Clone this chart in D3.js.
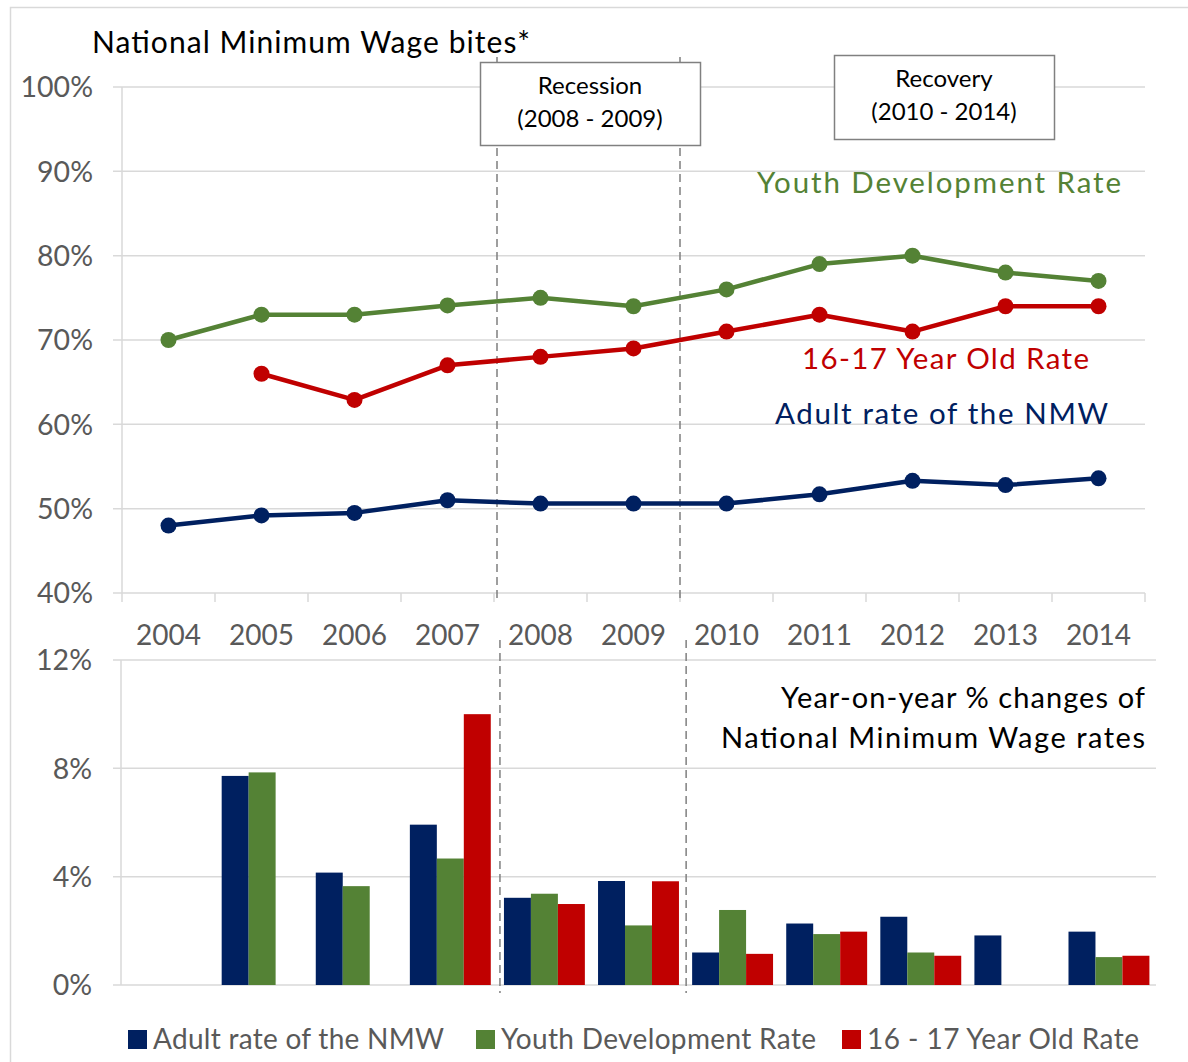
<!DOCTYPE html>
<html>
<head>
<meta charset="utf-8">
<script src="https://cdn.jsdelivr.net/npm/d3@7"></script>
<style>
  html, body { margin: 0; padding: 0; background: #fff; }
  svg { display: block; font-family: Lato, "Open Sans", sans-serif; }
</style>
</head>
<body>
<svg id="chart" width="1188" height="1062"></svg>
<script>
// ---------- DATA ----------
const years = ["2004","2005","2006","2007","2008","2009","2010","2011","2012","2013","2014"];
// NMW bites (%)
const biteAdult = [48.0, 49.2, 49.5, 51.0, 50.6, 50.6, 50.6, 51.7, 53.3, 52.8, 53.6];
const biteYouth = [70.0, 73.0, 73.0, 74.1, 75.0, 74.0, 76.0, 79.0, 80.0, 78.0, 77.0];
const bite1617  = [null, 66.0, 62.9, 67.0, 68.0, 69.0, 71.0, 73.0, 71.0, 74.0, 74.0];
// Year-on-year % changes
const chgAdult = [null, 7.72, 4.15, 5.92, 3.22, 3.84, 1.20, 2.27, 2.52, 1.83, 1.97];
const chgYouth = [null, 7.85, 3.65, 4.67, 3.37, 2.20, 2.77, 1.88, 1.20, null, 1.03];
const chg1617  = [null, null, null, 10.0, 2.99, 3.83, 1.15, 1.97, 1.08, null, 1.08];
const topTicks = [40, 50, 60, 70, 80, 90, 100];
const bottomTicks = [0, 4, 8, 12];
const seriesNames = ["Adult rate of the NMW", "Youth Development Rate", "16 - 17  Year Old Rate"];
const periods = [
  {label1: "Recession", label2: "(2008 - 2009)", from: "2008", to: "2010"},
  {label1: "Recovery", label2: "(2010 - 2014)", from: "2010", to: "2014"}
];

// ---------- STYLE ----------
const C = { adult: "#002060", youth: "#548235", young: "#C00000",
            grid: "#D9D9D9", axisText: "#595959", dash: "#7F7F7F" };

const svg = d3.select("#chart");

// outer chart border
svg.append("rect").attr("x", 10.5).attr("y", 7.5).attr("width", 1200).attr("height", 1100)
  .attr("fill", "none").attr("stroke", "#D9D9D9").attr("stroke-width", 1.5);

// ---------- TOP CHART ----------
const xT = d3.scaleBand().domain(years).range([122, 1145]);
const yT = d3.scaleLinear().domain([40, 100]).range([593, 87]);

const gT = svg.append("g");
gT.selectAll("line.grid").data(topTicks).join("line")
  .attr("x1", 113).attr("x2", 1145)
  .attr("y1", d => yT(d)).attr("y2", d => yT(d))
  .attr("stroke", C.grid).attr("stroke-width", 1.5);
gT.append("line").attr("x1", 122).attr("x2", 122).attr("y1", yT(100)).attr("y2", yT(40))
  .attr("stroke", C.grid).attr("stroke-width", 1.5);
gT.selectAll("text.ylab").data(topTicks).join("text")
  .attr("x", 93).attr("y", d => yT(d)).attr("dy", "0.36em")
  .attr("text-anchor", "end").attr("fill", C.axisText).attr("font-size", 28.5)
  .text(d => d + "%");
const bounds = years.map(y => xT(y)).concat([xT(years[years.length-1]) + xT.bandwidth()]);
gT.selectAll("line.xt").data(bounds).join("line")
  .attr("x1", d => d).attr("x2", d => d).attr("y1", yT(40)).attr("y2", yT(40) + 9)
  .attr("stroke", C.grid).attr("stroke-width", 1.5);
gT.selectAll("text.xlab").data(years).join("text")
  .attr("x", d => xT(d) + xT.bandwidth()/2).attr("y", 645)
  .attr("text-anchor", "middle").attr("fill", C.axisText).attr("font-size", 28)
  .text(d => d);

// dashed period lines (top)
const dashTop = [xT("2008") + 3, xT("2010")];
gT.selectAll("line.dash").data(dashTop).join("line")
  .attr("x1", d => d).attr("x2", d => d).attr("y1", 57).attr("y2", 600)
  .attr("stroke", C.dash).attr("stroke-width", 1.5).attr("stroke-dasharray", "8,5");

// lines
const lineGen = d3.line().defined(d => d.v != null)
  .x(d => xT(d.y) + xT.bandwidth()/2).y(d => yT(d.v));
const topSeries = [
  {vals: biteYouth, color: C.youth},
  {vals: bite1617, color: C.young},
  {vals: biteAdult, color: C.adult}
];
topSeries.forEach(s => {
  const pts = years.map((y, i) => ({y, v: s.vals[i]}));
  gT.append("path").datum(pts).attr("d", lineGen)
    .attr("fill", "none").attr("stroke", s.color).attr("stroke-width", 4.5)
    .attr("stroke-linejoin", "round");
  gT.selectAll(null).data(pts.filter(d => d.v != null)).join("circle")
    .attr("cx", d => xT(d.y) + xT.bandwidth()/2).attr("cy", d => yT(d.v))
    .attr("r", 8).attr("fill", s.color);
});

// period boxes
const boxes = [
  {p: periods[0], x: 480, y: 62, w: 220, h: 83},
  {p: periods[1], x: 834, y: 55, w: 220, h: 84}
];
boxes.forEach(b => {
  gT.append("rect").attr("x", b.x + 0.5).attr("y", b.y + 0.5).attr("width", b.w).attr("height", b.h)
    .attr("fill", "#fff").attr("stroke", "#808080").attr("stroke-width", 1.5);
  gT.append("text").attr("x", b.x + b.w/2).attr("y", b.y + 32).attr("text-anchor", "middle")
    .attr("font-size", 24).attr("fill", "#000").text(b.p.label1);
  gT.append("text").attr("x", b.x + b.w/2).attr("y", b.y + 65).attr("text-anchor", "middle")
    .attr("font-size", 24).attr("fill", "#000").text(b.p.label2);
});

function label(x, y, anchor, size, fill, len, txt) {
  return svg.append("text").attr("x", x).attr("y", y).attr("text-anchor", anchor)
    .attr("font-size", size).attr("fill", fill)
    .attr("textLength", len).attr("lengthAdjust", "spacing").text(txt);
}

// title
label(92, 53, "start", 30, "#000", 438, "National Minimum Wage bites*");

// series labels
label(1121, 193, "end", 29.5, C.youth, 364, "Youth Development  Rate");
label(1089, 369, "end", 29.5, C.young, 287, "16-17 Year Old Rate");
label(1108, 424, "end", 29.5, C.adult, 333, "Adult rate of the NMW");

// ---------- BOTTOM CHART ----------
const xB = d3.scaleBand().domain(years).range([121, 1156]).paddingInner(0.14).paddingOuter(0.07);
const xSub = d3.scaleBand().domain(["a","y","r"]).range([0, xB.bandwidth()]);
const yB = d3.scaleLinear().domain([0, 12]).range([985, 660]);

const gB = svg.append("g");
gB.selectAll("line.grid").data(bottomTicks).join("line")
  .attr("x1", 113).attr("x2", 1156)
  .attr("y1", d => yB(d)).attr("y2", d => yB(d))
  .attr("stroke", C.grid).attr("stroke-width", 1.5);
gB.append("line").attr("x1", 121).attr("x2", 121).attr("y1", yB(12)).attr("y2", yB(0))
  .attr("stroke", C.grid).attr("stroke-width", 1.5);
gB.selectAll("text.ylab").data(bottomTicks).join("text")
  .attr("x", 92).attr("y", d => yB(d)).attr("dy", "0.36em")
  .attr("text-anchor", "end").attr("fill", C.axisText).attr("font-size", 28.5)
  .text(d => d + "%");

const barSeries = [
  {key: "a", vals: chgAdult, color: C.adult},
  {key: "y", vals: chgYouth, color: C.youth},
  {key: "r", vals: chg1617, color: C.young}
];
barSeries.forEach(s => {
  const pts = years.map((y, i) => ({y, v: s.vals[i]})).filter(d => d.v != null);
  gB.selectAll(null).data(pts).join("rect")
    .attr("x", d => xB(d.y) + xSub(s.key)).attr("width", xSub.bandwidth())
    .attr("y", d => yB(d.v)).attr("height", d => yB(0) - yB(d.v))
    .attr("fill", s.color);
});

// dashed lines bottom
const dashBottom = [xB("2008") - 4, xB("2010") - 6];
gB.selectAll("line.dash").data(dashBottom).join("line")
  .attr("x1", d => d).attr("x2", d => d).attr("y1", 640).attr("y2", 993)
  .attr("stroke", C.dash).attr("stroke-width", 1.5).attr("stroke-dasharray", "8,5");

// bottom title
label(1145, 708, "end", 29, "#000", 364, "Year-on-year % changes of");
label(1145, 748, "end", 29, "#000", 424, "National Minimum Wage rates");

// legend
const legend = [
  {name: seriesNames[0], color: C.adult, x: 128, len: 291},
  {name: seriesNames[1], color: C.youth, x: 476, len: 315},
  {name: seriesNames[2], color: C.young, x: 842, len: 272}
];
legend.forEach(l => {
  svg.append("rect").attr("x", l.x).attr("y", 1030).attr("width", 19).attr("height", 19).attr("fill", l.color);
  label(l.x + 25, 1049, "start", 28, C.axisText, l.len, l.name);
});
</script>
</body>
</html>
